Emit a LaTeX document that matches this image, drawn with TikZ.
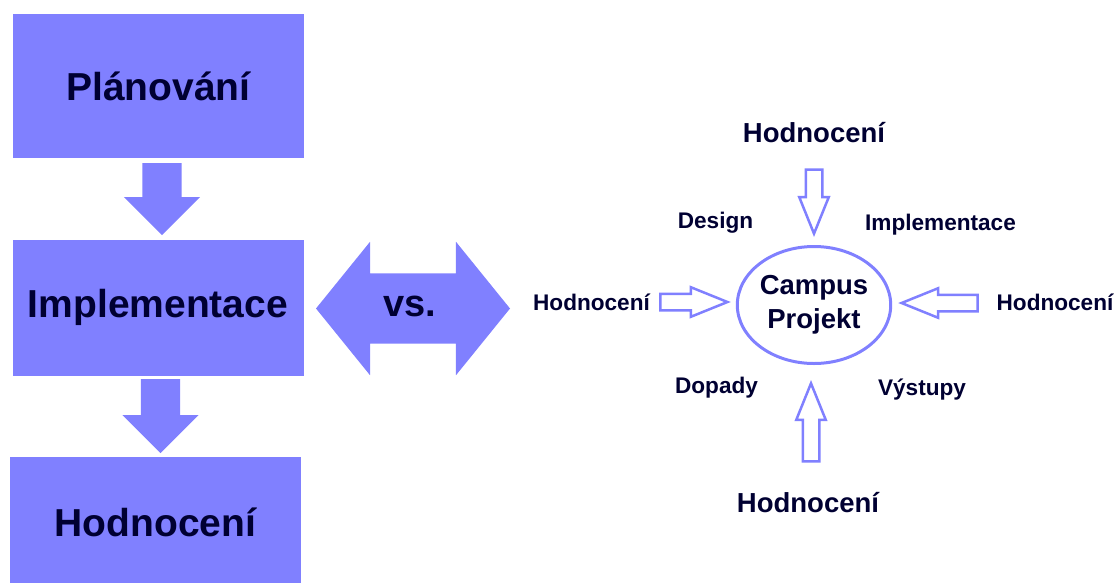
\documentclass[tikz,border=0pt]{standalone}
\usepackage{fontspec}
\setmainfont{Liberation Sans}
\usepackage{tikz}
\usetikzlibrary{shapes.geometric, shapes.arrows, positioning}
\definecolor{boxblue}{RGB}{128,128,255}
\definecolor{inkblue}{RGB}{0,0,50}
\tikzstyle{phase} = [rectangle, fill=boxblue, minimum width=291pt, text=inkblue, font=\bfseries\fontsize{39}{44}\selectfont]
\tikzstyle{downarrow} = [single arrow, fill=boxblue, rotate=-90, inner xsep=0pt, inner ysep=19.5pt, single arrow head extend=18.5pt, minimum height=72pt]
\tikzstyle{versus} = [double arrow, fill=boxblue, inner xsep=0pt, inner ysep=35pt, double arrow head extend=31.5pt, double arrow tip angle=102, minimum height=194pt]
\tikzstyle{hollow} = [single arrow, draw=boxblue, line width=2.5pt, fill=white, inner xsep=0pt, inner ysep=7pt, single arrow head extend=6.5pt, single arrow tip angle=44]
\tikzstyle{biglabel} = [text=inkblue, font=\bfseries\fontsize{27.5}{34}\selectfont]
\tikzstyle{smalllabel} = [text=inkblue, font=\bfseries\fontsize{22.6}{27}\selectfont]

\begin{document}
\begin{tikzpicture}[x=1pt, y=-1pt]
\useasboundingbox (0,0) rectangle (1116,582);
% left column
\node (plan) [phase, minimum height=144pt] at (158.5,86) {Plánování};
\node (arr1) [downarrow, anchor=tail] at (162,163) {};
\node (impl) [phase, minimum height=136pt, below=4pt of arr1.tip, xshift=-4pt] {Implementace};
\node (arr2) [downarrow, anchor=tail, minimum height=74pt] at (160.5,379) {};
\node (hodn) [phase, minimum height=132pt, below=3pt of arr2.tip, xshift=-5pt] {Hodnocení};
% vs.
\node (vsarrow) [versus] at (413,308.5) {};
\node (vs) [text=inkblue, font=\bfseries\fontsize{38}{44}\selectfont] at (410,306) {vs.};
% right side
\node (campus) [ellipse, draw=boxblue, line width=3pt, minimum width=153pt, minimum height=117pt, inner sep=0pt, align=center, biglabel] at (814,305) {Campus\\Projekt};
\node (evaltop) [biglabel] at (814,133) {Hodnocení};
\node (evalbottom) [biglabel] at (808,503) {Hodnocení};
\node (evalleft) [smalllabel] at (591.5,302) {Hodnocení};
\node (evalright) [smalllabel] at (1055,302) {Hodnocení};
\node (design) [smalllabel] at (715.5,223) {Design};
\node (implem) [smalllabel] at (940.5,225) {Implementace};
\node (dopady) [smalllabel] at (716.5,388) {Dopady};
\node (vystupy) [smalllabel] at (922,390) {Výstupy};
\node (intop) [hollow, rotate=-90, anchor=tip, minimum height=64pt] at ([yshift=8pt]campus.north) {};
\node (inleft) [hollow, anchor=tip, minimum height=67pt] at ([xshift=-5pt, yshift=3pt]campus.west) {};
\node (inright) [hollow, rotate=180, anchor=tip, minimum height=76pt] at ([xshift=6pt, yshift=2pt]campus.east) {};
\node (inbottom) [hollow, rotate=90, anchor=tip, minimum height=78pt] at ([xshift=-3pt, yshift=-15pt]campus.south) {};
\end{tikzpicture}
\end{document}
